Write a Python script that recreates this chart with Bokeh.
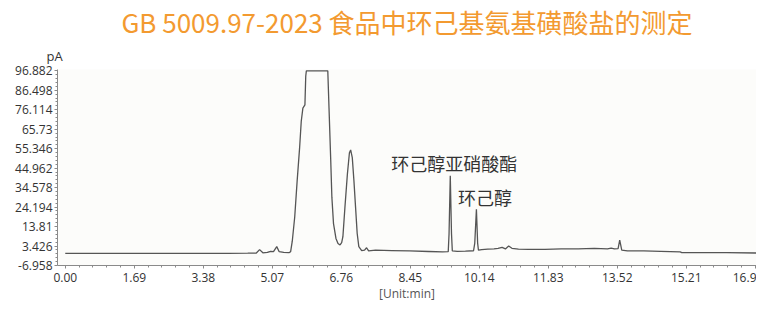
from bokeh.plotting import figure
from bokeh.models import FixedTicker, Label, Range1d, Title
from bokeh.embed import file_html
from bokeh.resources import INLINE

title_text = "GB 5009.97-2023 食品中环己基氨基磺酸盐的测定"
x_axis_label = "[Unit:min]"
y_unit_label = "pA"

time_min = [
    0.00, 1.00, 2.00, 3.00, 4.00, 4.47, 4.68, 4.76, 4.84, 4.95, 5.03, 5.10, 5.18, 5.24,
    5.35, 5.48, 5.52, 5.56, 5.62, 5.68, 5.74, 5.78, 5.82, 5.87, 5.89, 5.905, 6.43, 6.46,
    6.50, 6.53, 6.57, 6.63, 6.68, 6.73, 6.77, 6.80, 6.85, 6.91, 6.96, 6.99, 7.03, 7.07,
    7.11, 7.15, 7.19, 7.26, 7.33, 7.38, 7.43, 7.60, 8.00, 8.43, 8.90, 9.24, 9.38, 9.40,
    9.43, 9.46, 9.48, 9.60, 9.80, 10.00, 10.03, 10.07, 10.10, 10.12, 10.20, 10.35, 10.50,
    10.60, 10.70, 10.78, 10.86, 10.94, 11.10, 11.34, 11.75, 12.15, 12.56, 12.96, 13.28,
    13.37, 13.45, 13.54, 13.58, 13.63, 13.77, 14.17, 14.58, 15.06, 15.10, 16.20, 16.93,
]
signal_pa = [
    -0.5, -0.5, -0.5, -0.5, -0.45, -0.4, -0.3, 1.5, -0.2, 0.0, 0.6, 0.4, 3.1, 0.4,
    0.0, -0.1, 0.4, 6.0, 18.9, 38.3, 55.9, 70.0, 77.0, 78.7, 94.0, 96.882, 96.882, 77.0,
    50.6, 29.5, 15.4, 7.5, 4.8, 4.0, 5.2, 8.4, 24.2, 41.8, 53.2, 54.7, 50.6, 38.3,
    24.2, 10.1, 3.1, 1.0, 1.2, 2.5, 0.8, 1.2, 1.0, 0.8, 0.5, 0.3, 0.4, 10.0,
    40.9, 10.0, 0.8, 0.6, 0.7, 0.9, 5.0, 23.0, 5.0, 1.2, 1.5, 1.8, 1.9,
    2.2, 2.7, 1.9, 3.4, 2.2, 1.8, 1.65, 1.65, 1.9, 1.9, 2.2, 1.9,
    2.3, 1.9, 2.0, 6.6, 1.3, 0.8, 0.8, 0.6, 0.27, -0.1, -0.1, -0.3,
]

x_tick_values = [0.0, 1.69, 3.38, 5.07, 6.76, 8.45, 10.14, 11.83, 13.52, 15.21, 16.9]
x_tick_labels = ["0.00", "1.69", "3.38", "5.07", "6.76", "8.45", "10.14", "11.83", "13.52", "15.21", "16.9"]
y_tick_values = [-6.958, 3.426, 13.81, 24.194, 34.578, 44.962, 55.346, 65.73, 76.114, 86.498, 96.882]
y_tick_labels = ["-6.958", "3.426", "13.81", "24.194", "34.578", "44.962", "55.346", "65.73", "76.114", "86.498", "96.882"]

peak_names = ["环己醇亚硝酸酯", "环己醇"]
peak_label_time = [9.53, 10.28]
peak_label_signal = [47.9, 29.8]

x_minor = [x_tick_values[i] + k * (x_tick_values[i + 1] - x_tick_values[i]) / 5
           for i in range(len(x_tick_values) - 1) for k in range(1, 5)]
y_minor = [y_tick_values[i] + k * (y_tick_values[i + 1] - y_tick_values[i]) / 5
           for i in range(len(y_tick_values) - 1) for k in range(1, 5)]

p = figure(width=756, height=304, output_backend="svg", toolbar_location=None,
           x_range=Range1d(-0.19, 16.93), y_range=Range1d(-6.958, 97.6),
           min_border_left=57, min_border_right=0, min_border_top=0, min_border_bottom=0,
           background_fill_color="#fcfcfa", border_fill_color="white")

p.title.text = title_text
p.title.align = "center"
p.title.text_font = "Noto Sans CJK SC"
p.title.text_font_size = "26px"
p.title.text_font_style = "normal"
p.title.text_color = "#F39A30"
p.title.standoff = 0

unit_title = Title(text=y_unit_label, align="left", offset=-11, text_font="Open Sans",
                   text_font_size="13px", text_font_style="normal", text_color="#333333",
                   standoff=10)
p.add_layout(unit_title, "above")

p.outline_line_color = None
p.xgrid.visible = False
p.ygrid.visible = False

p.line(time_min, signal_pa, line_color="#555555", line_width=1.3)

for ax in (p.xaxis[0], p.yaxis[0]):
    ax.axis_line_color = "#8a8a8a"
    ax.major_tick_line_color = "#8a8a8a"
    ax.minor_tick_line_color = "#8a8a8a"
    ax.major_tick_in = 0
    ax.minor_tick_in = 0
    ax.major_tick_out = 3
    ax.minor_tick_out = 2
    ax.major_label_text_font = "Open Sans"
    ax.major_label_text_color = "#333333"

p.xaxis.ticker = FixedTicker(ticks=x_tick_values, minor_ticks=x_minor)
p.xaxis.major_label_overrides = dict(zip(x_tick_values, x_tick_labels))
p.xaxis.major_label_text_font_size = "12px"
p.xaxis.major_label_standoff = 4
p.xaxis.axis_label = x_axis_label
p.xaxis.axis_label_text_font = "Open Sans"
p.xaxis.axis_label_text_font_size = "12px"
p.xaxis.axis_label_text_font_style = "normal"
p.xaxis.axis_label_text_color = "#555555"
p.xaxis.axis_label_standoff = 0

p.yaxis.ticker = FixedTicker(ticks=y_tick_values, minor_ticks=y_minor)
p.yaxis.major_label_overrides = dict(zip(y_tick_values, y_tick_labels))
p.yaxis.major_label_text_font_size = "12px"
p.yaxis.major_label_standoff = 2

for name, tx, sy in zip(peak_names, peak_label_time, peak_label_signal):
    p.add_layout(Label(x=tx, y=sy, text=name, text_align="center", text_baseline="middle",
                       text_font="Noto Sans CJK SC", text_font_size="18px",
                       text_color="#333333"))

open("out.html", "w").write(file_html(p, INLINE))
